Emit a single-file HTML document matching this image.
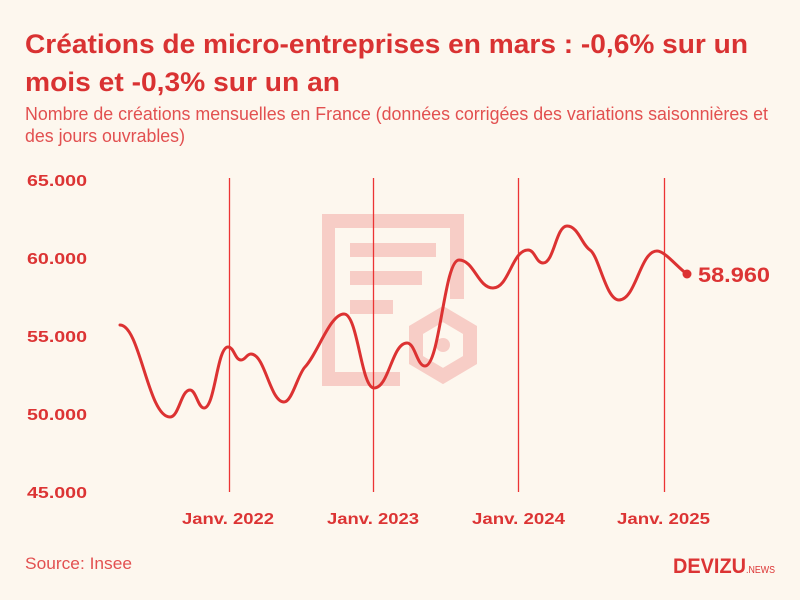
<!DOCTYPE html>
<html><head><meta charset="utf-8"><style>
html,body{margin:0;padding:0;background:#fdf7ee;}
svg{display:block;}
text{font-family:"Liberation Sans",sans-serif;fill:#dc3434;}
</style></head><body>
<svg width="800" height="600" viewBox="0 0 800 600" xmlns="http://www.w3.org/2000/svg">
<rect width="800" height="600" fill="#fdf7ee"/>
<text x="25" y="53" font-size="27" font-weight="bold" textLength="723" lengthAdjust="spacingAndGlyphs" style="fill:#d93232">Créations de micro-entreprises en mars : -0,6% sur un</text>
<text x="25" y="91" font-size="27" font-weight="bold" textLength="315" lengthAdjust="spacingAndGlyphs" style="fill:#d93232">mois et -0,3% sur un an</text>
<text x="25" y="120" font-size="18" textLength="743" lengthAdjust="spacingAndGlyphs" style="fill:#e25050">Nombre de créations mensuelles en France (données corrigées des variations saisonnières et</text>
<text x="25" y="142" font-size="18" textLength="160" lengthAdjust="spacingAndGlyphs" style="fill:#e25050">des jours ouvrables)</text>

<!-- watermark -->
<g fill="#f7cdc6">
<rect x="322" y="214" width="142" height="14"/>
<rect x="322" y="214" width="13" height="172"/>
<rect x="450" y="214" width="14" height="85"/>
<rect x="322" y="372" width="78" height="14"/>
<rect x="350" y="243" width="86" height="14"/>
<rect x="350" y="271" width="72" height="14"/>
<rect x="350" y="300" width="43" height="14"/>
<circle cx="443" cy="345" r="7"/>
</g>
<polygon points="443,314 470,330 470,360 443,376 416,360 416,330" fill="none" stroke="#f7cdc6" stroke-width="14"/>

<!-- grid verticals -->
<g stroke="#ec3434" stroke-width="1.3">
<line x1="229.5" y1="178" x2="229.5" y2="492"/>
<line x1="373.5" y1="178" x2="373.5" y2="492"/>
<line x1="518.5" y1="178" x2="518.5" y2="492"/>
<line x1="664.5" y1="178" x2="664.5" y2="492"/>
</g>

<!-- y labels -->
<g font-size="16" font-weight="bold">
<text x="27" y="186" textLength="60" lengthAdjust="spacingAndGlyphs">65.000</text>
<text x="27" y="264" textLength="60" lengthAdjust="spacingAndGlyphs">60.000</text>
<text x="27" y="342" textLength="60" lengthAdjust="spacingAndGlyphs">55.000</text>
<text x="27" y="420" textLength="60" lengthAdjust="spacingAndGlyphs">50.000</text>
<text x="27" y="498" textLength="60" lengthAdjust="spacingAndGlyphs">45.000</text>
</g>

<!-- x labels -->
<g font-size="16" font-weight="bold">
<text x="182" y="524" textLength="92" lengthAdjust="spacingAndGlyphs">Janv. 2022</text>
<text x="327" y="524" textLength="92" lengthAdjust="spacingAndGlyphs">Janv. 2023</text>
<text x="472" y="524" textLength="93" lengthAdjust="spacingAndGlyphs">Janv. 2024</text>
<text x="617" y="524" textLength="93" lengthAdjust="spacingAndGlyphs">Janv. 2025</text>
</g>

<!-- series -->
<path fill="none" stroke="#dc3232" stroke-width="3" stroke-linecap="round" stroke-linejoin="round"
d="M120,325 C140,325 148,417 170,417
C179,417 181,390 190,390
C196,390 198,408 204,408
C215,408 217,347 228,347
C234,347 235,360 241,360
C245.5,360 246.5,354 251,354
C265,354 270,402 284,402
C292,402 298,374 305,367
C318,353 330,314 344,314
C358,314 361,388 374,388
C389,388 392,343 407,343
C415,343 417,366 425,366
C440,366 444,260 459,260
C474,260 478,288 493,288
C509,288 512,250 528,250
C535,250 536,263 543,263
C554,263 556,226 567,226
C578,226 582,245 590,250
C599,256 606,300 619,300
C636,300 640,251 657,251
C665,251 677,267 687,274"/>
<circle cx="687" cy="274" r="4.5" fill="#dc3232"/>
<text x="698" y="282" font-size="21" font-weight="bold" textLength="72" lengthAdjust="spacingAndGlyphs">58.960</text>

<!-- footer -->
<text x="25" y="569" font-size="17" textLength="107" lengthAdjust="spacingAndGlyphs" style="fill:#e25050">Source: Insee</text>
<text x="673" y="573" font-size="21" font-weight="bold" textLength="73" lengthAdjust="spacingAndGlyphs">DEVIZU</text>
<text x="746" y="573" font-size="10" textLength="29" lengthAdjust="spacingAndGlyphs">.NEWS</text>
</svg>
</body></html>
